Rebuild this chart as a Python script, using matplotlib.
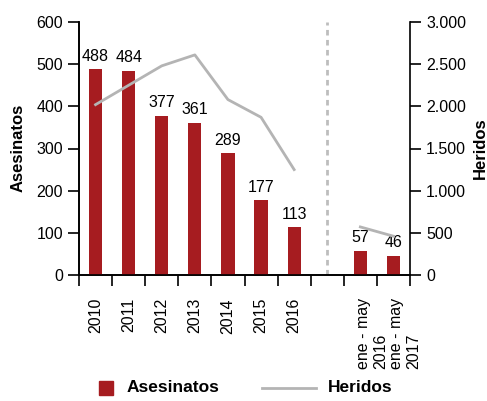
import matplotlib
matplotlib.use('Agg')
import matplotlib.pyplot as plt
import numpy as np
from matplotlib.lines import Line2D
from matplotlib.patches import Rectangle
from matplotlib.ticker import FuncFormatter
from matplotlib.transforms import ScaledTranslation

plt.rcParams['font.family'] = ['Liberation Sans', 'DejaVu Sans']

categories = ['2010', '2011', '2012', '2013', '2014', '2015', '2016', '',
              'ene - may\n2016', 'ene - may\n2017']
asesinatos = [488, 484, 377, 361, 289, 177, 113, None, 57, 46]
heridos = [2020, 2250, 2480, 2610, 2080, 1870, 1250, None, 570, 460]
gap_index = 7

red = '#A61C20'
gray = '#B4B4B4'
fs = 11.5

fig = plt.figure(figsize=(4.87, 4.01), dpi=100)
ax = fig.add_axes([79 / 487, 1 - 275 / 401, 331 / 487, 253 / 401])
ax2 = ax.twinx()

x = np.arange(len(categories))
bar_x = [i for i, v in enumerate(asesinatos) if v is not None]
bar_v = [v for v in asesinatos if v is not None]
rects = ax.bar(bar_x, bar_v, 0.4, color=red, zorder=3)
ax.bar_label(rects, padding=4, fontsize=fs)

h = np.array([np.nan if v is None else v for v in heridos], dtype=float)
ax2.plot(x, h, color=gray, lw=2, zorder=2)

# separator between full years and partial periods
ax.axvline(gap_index, color='#BDBDBD', lw=2, ls=(0, (2, 1.6)), zorder=1)

ax.set_xlim(-0.5, len(categories) - 0.5)
ax.set_ylim(0, 600)
ax2.set_ylim(0, 3000)
ax.set_yticks(range(0, 601, 100))
ax2.set_yticks(range(0, 3001, 500))
ax2.yaxis.set_major_formatter(FuncFormatter(lambda v, p: f'{int(v):,}'.replace(',', '.')))

# ticks on category boundaries, labels at the centres
ax.set_xticks(np.arange(-0.5, len(categories)), [])
ax.tick_params(axis='x', which='major', direction='out', length=8, width=1.2)
for i, lab in enumerate(categories):
    tr = ax.get_xaxis_transform()
    if '\n' in lab:
        tr = tr + ScaledTranslation(0.12, 0, fig.dpi_scale_trans)
    ax.text(i, -23 / 253, lab, transform=tr, rotation=90,
            ha='center', va='top', multialignment='left', fontsize=fs)

ax.tick_params(axis='y', direction='out', length=8, width=1.2, labelsize=fs)
ax2.tick_params(axis='y', direction='out', length=8, width=1.2, labelsize=fs)

for a in (ax, ax2):
    a.spines['top'].set_visible(False)
    for s in ('left', 'right', 'bottom'):
        a.spines[s].set_linewidth(1.2)
ax.spines['right'].set_visible(False)

fig.text(18 / 487, 1 - 148 / 401, 'Asesinatos', rotation=90, ha='center', va='center',
         fontsize=12, fontweight='bold')
fig.text(473 / 487, 1 - 148 / 401, 'Heridos', rotation=90, ha='left', va='center',
         fontsize=12, fontweight='bold')

# legend at the bottom
ly = 1 - 388 / 401
fig.add_artist(Rectangle((99 / 487, ly - 7 / 401), 14 / 487, 14 / 401,
                         transform=fig.transFigure, color=red))
fig.text(127 / 487, ly, 'Asesinatos', ha='left', va='center', fontsize=12.5, fontweight='bold')
fig.add_artist(Line2D([262 / 487, 316 / 487], [ly, ly], transform=fig.transFigure,
                      color=gray, lw=2))
fig.text(328 / 487, ly, 'Heridos', ha='left', va='center', fontsize=12.5, fontweight='bold')

fig.savefig('out.png', dpi=100)
